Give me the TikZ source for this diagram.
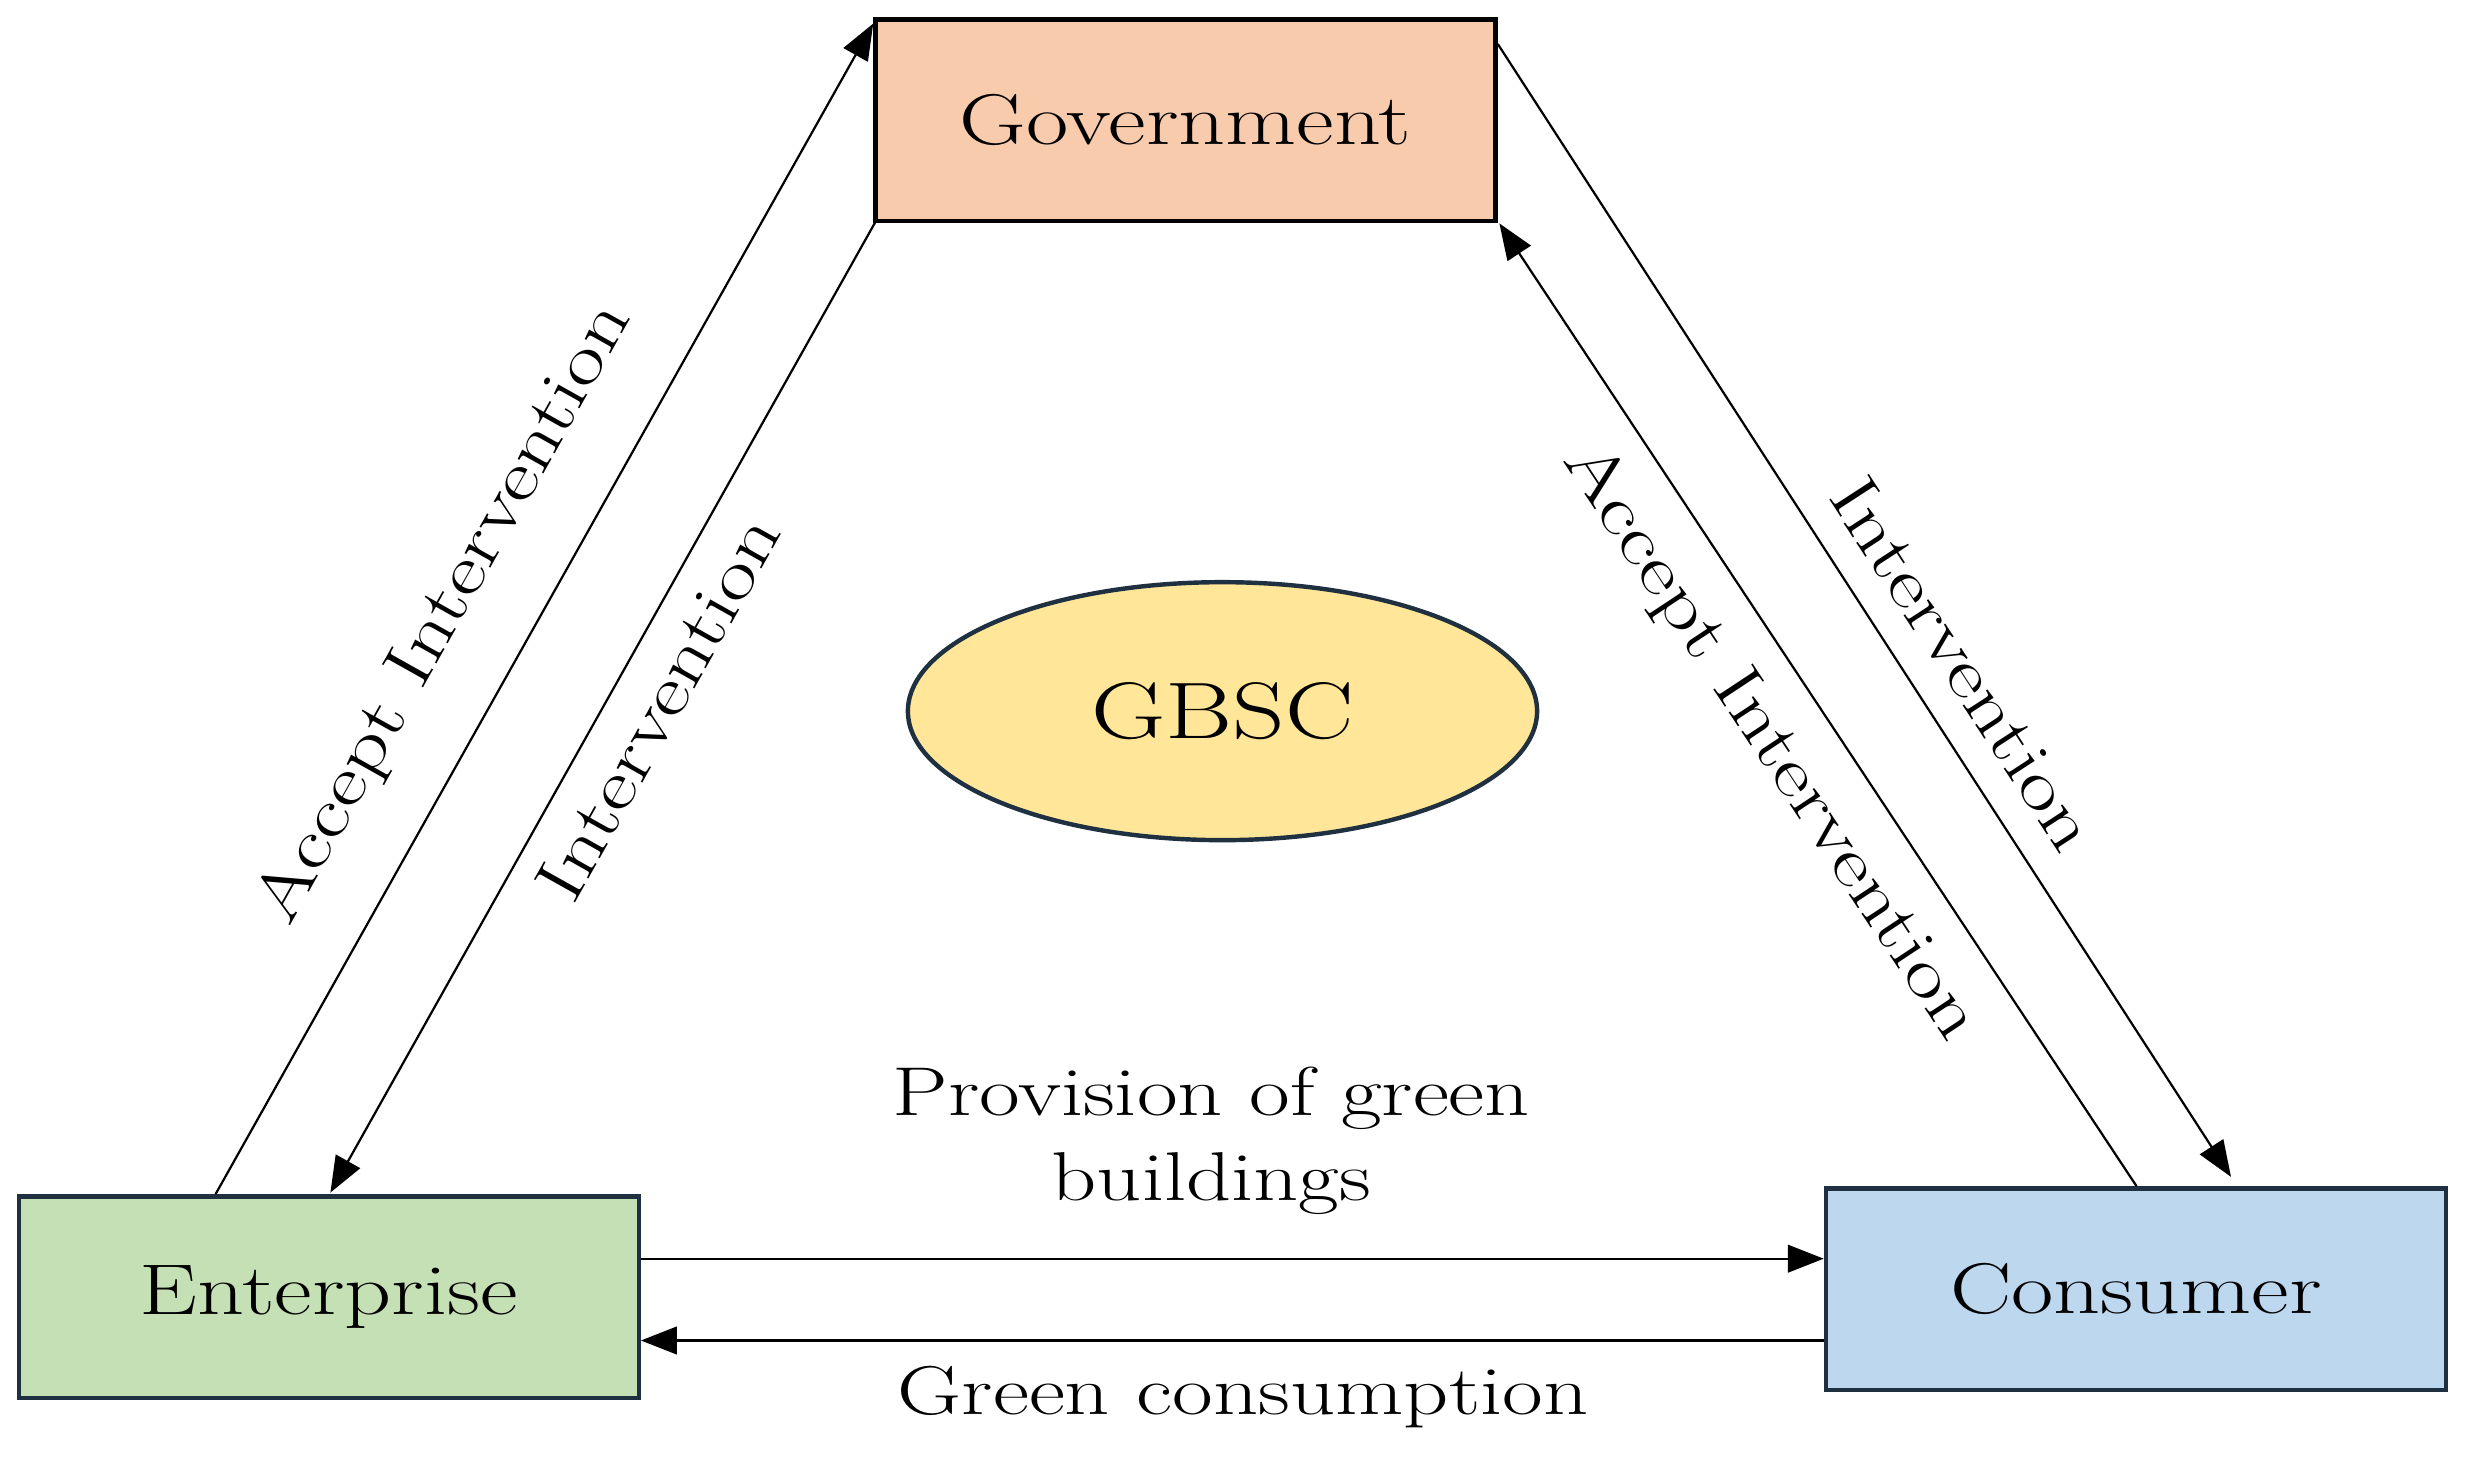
\documentclass[tikz,border=0pt]{standalone}
\usepackage{fontspec}
\setmainfont{Latin Modern Roman}[FakeStretch=1.28]
\usetikzlibrary{arrows.meta,shapes.geometric}
\definecolor{govf}{HTML}{F8CBAD}
\definecolor{entf}{HTML}{C5E0B4}
\definecolor{conf}{HTML}{BDD7EE}
\definecolor{ellf}{HTML}{FFE699}
\definecolor{bord}{HTML}{1F3040}
\begin{document}
\begin{tikzpicture}[x=0.02cm,y=-0.02cm,
  box/.style={draw=bord,line width=1.6pt,minimum width=7.88cm,minimum height=2.56cm,inner sep=0pt,font=\fontsize{26}{30}\selectfont},
  arr/.style={line width=0.8pt,-{Triangle[length=13pt,width=10pt]}},
  lab/.style={font=\fontsize{25}{31}\selectfont,align=center}]
\useasboundingbox (0,0) rectangle (1568,930);
\fill[white] (0,0) rectangle (1568,930);
\node[box,fill=govf,draw=black] (gov) at (753.5,76.5) {Government};
\node[box,fill=entf] (ent) at (209,824.5) {Enterprise};
\node[box,fill=conf] (con) at (1357.5,819.5) {Consumer};
\node[ellipse,draw=bord,line width=1.6pt,fill=ellf,minimum width=8cm,minimum height=3.28cm,inner sep=0pt,font=\fontsize{29}{32}\selectfont] (gbsc) at (777,452) {GBSC};
\coordinate (a1) at (137,759); \coordinate (a2) at (555,15);
\coordinate (b1) at (557,140); \coordinate (b2) at (210,758);
\coordinate (c1) at (952,28); \coordinate (c2) at (1418,748);
\coordinate (d1) at (1358,754); \coordinate (d2) at (953,142);
\draw[arr] (a1) -- (a2);
\draw[arr] (b1) -- (b2);
\draw[arr] (c1) -- (c2);
\draw[arr] (d1) -- (d2);
\draw[arr] (ent.east |- 0,800) -- (con.west |- 0,800);
\draw[arr] (con.west |- 0,852) -- (ent.east |- 0,852);
\node[lab,rotate=60.7] (l1) at (283,390) {Accept Intervention};
\node[lab,rotate=60.7] (l2) at (418,450) {Intervention};
\node[lab,rotate=-56.5] (l3) at (1125,472) {Accept Intervention};
\node[lab,rotate=-57] (l4) at (1248,422) {Intervention};
\node[lab] (l5) at (770,725) {Provision of green\\buildings};
\node[lab] (l6) at (790,888) {Green consumption};
\end{tikzpicture}
\end{document}
